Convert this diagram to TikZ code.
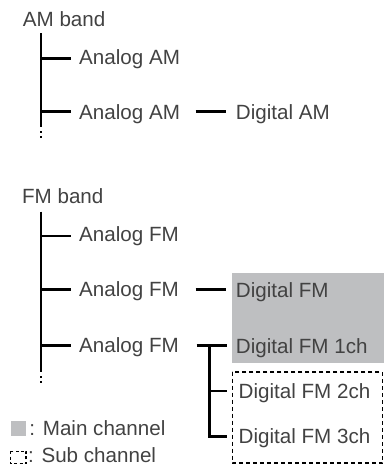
\documentclass[tikz,border=0pt]{standalone}
\usepackage{fontspec}
\setmainfont{Liberation Sans}
\definecolor{txt}{RGB}{66,66,66}
\definecolor{mainfill}{RGB}{190,191,193}
\begin{document}
\begin{tikzpicture}[x=1pt,y=-1pt,
  lbl/.style={anchor=base west,inner sep=0pt,text=txt,font=\fontsize{20.6}{24}\selectfont},
  tree/.style={line width=2.7pt,black},
  subbox/.style={draw=black,line width=1.6pt,dash pattern=on 4pt off 3pt},
  legsub/.style={draw=black,line width=1.4pt,dash pattern=on 3pt off 2.2pt}]
\useasboundingbox (0,0) rectangle (384,464);
% ---------- AM band ----------
\node[lbl] (amband) at (22.7,26) {AM band};
\coordinate (amtop) at (41,33);
\coordinate (ambot) at (41,127);
\draw[tree] (amtop) -- (ambot);
\fill (40,130.5) rectangle (42,132.5);
\fill (40,135.5) rectangle (42,137.5);
\node[lbl] (aa1) at (79,64) {Analog AM};
\node[lbl] (aa2) at (79,119.3) {Analog AM};
\node[lbl] (dam) at (235.7,119.3) {Digital AM};
\coordinate (amb1) at (41,58.7);
\coordinate (amb1e) at (70.7,58.7);
\coordinate (amb2) at (41,111.7);
\coordinate (amb2e) at (70.7,111.7);
\draw[tree] (amb1) -- (amb1e);
\draw[tree] (amb2) -- (amb2e);
\coordinate (amd1) at (195.7,111.7);
\coordinate (amd2) at (225.7,111.7);
\draw[tree] (amd1) -- (amd2);
% ---------- FM band ----------
\fill[mainfill] (231.7,273.3) rectangle (384,363.3);
\node[lbl] (fmband) at (21.9,203.3) {FM band};
\coordinate (fmtop) at (41,211.7);
\coordinate (fmbot) at (41,371.7);
\draw[tree] (fmtop) -- (fmbot);
\fill (40,376) rectangle (42,378);
\fill (40,381) rectangle (42,383);
\node[lbl] (af1) at (79,241.7) {Analog FM};
\node[lbl] (af2) at (79,296.3) {Analog FM};
\node[lbl] (af3) at (79,352.5) {Analog FM};
\coordinate (fmb1) at (41,236);
\coordinate (fmb1e) at (70.7,236);
\coordinate (fmb2) at (41,289.3);
\coordinate (fmb2e) at (70.7,289.3);
\coordinate (fmb3) at (41,345.5);
\coordinate (fmb3e) at (70.7,345.5);
\draw[tree] (fmb1) -- (fmb1e);
\draw[tree] (fmb2) -- (fmb2e);
\draw[tree] (fmb3) -- (fmb3e);
\node[lbl] (dfm) at (235.7,297.7) {Digital FM};
\node[lbl] (dfm1) at (235.7,353.3) {Digital FM 1ch};
\node[lbl] (dfm2) at (238.5,398.3) {Digital FM 2ch};
\node[lbl] (dfm3) at (238.5,443.3) {Digital FM 3ch};
\coordinate (fd1) at (195.7,289.3);
\coordinate (fd2) at (225.7,289.3);
\draw[tree] (fd1) -- (fd2);
\coordinate (fs) at (196.7,345.5);
\coordinate (fse) at (227,345.5);
\coordinate (fv) at (209.3,345.5);
\coordinate (fv2) at (209.3,391);
\coordinate (fv3) at (209.3,436.5);
\coordinate (fv2e) at (227,391);
\coordinate (fv3e) at (227,436.5);
\draw[tree] (fs) -- (fse);
\draw[tree] (fv) -- (fv3) -- (fv3e);
\draw[tree] (fv2) -- (fv2e);
\draw[subbox] (232.3,371.7) rectangle (382.3,463.2);
% ---------- legend ----------
\fill[mainfill] (11,420.7) rectangle (26,435.7);
\node[lbl] (lmain) at (29.3,435) {: Main channel};
\draw[legsub] (10.7,451.3) rectangle (26,463.3);
\node[lbl] (lsub) at (28,462) {: Sub channel};
\end{tikzpicture}
\end{document}
